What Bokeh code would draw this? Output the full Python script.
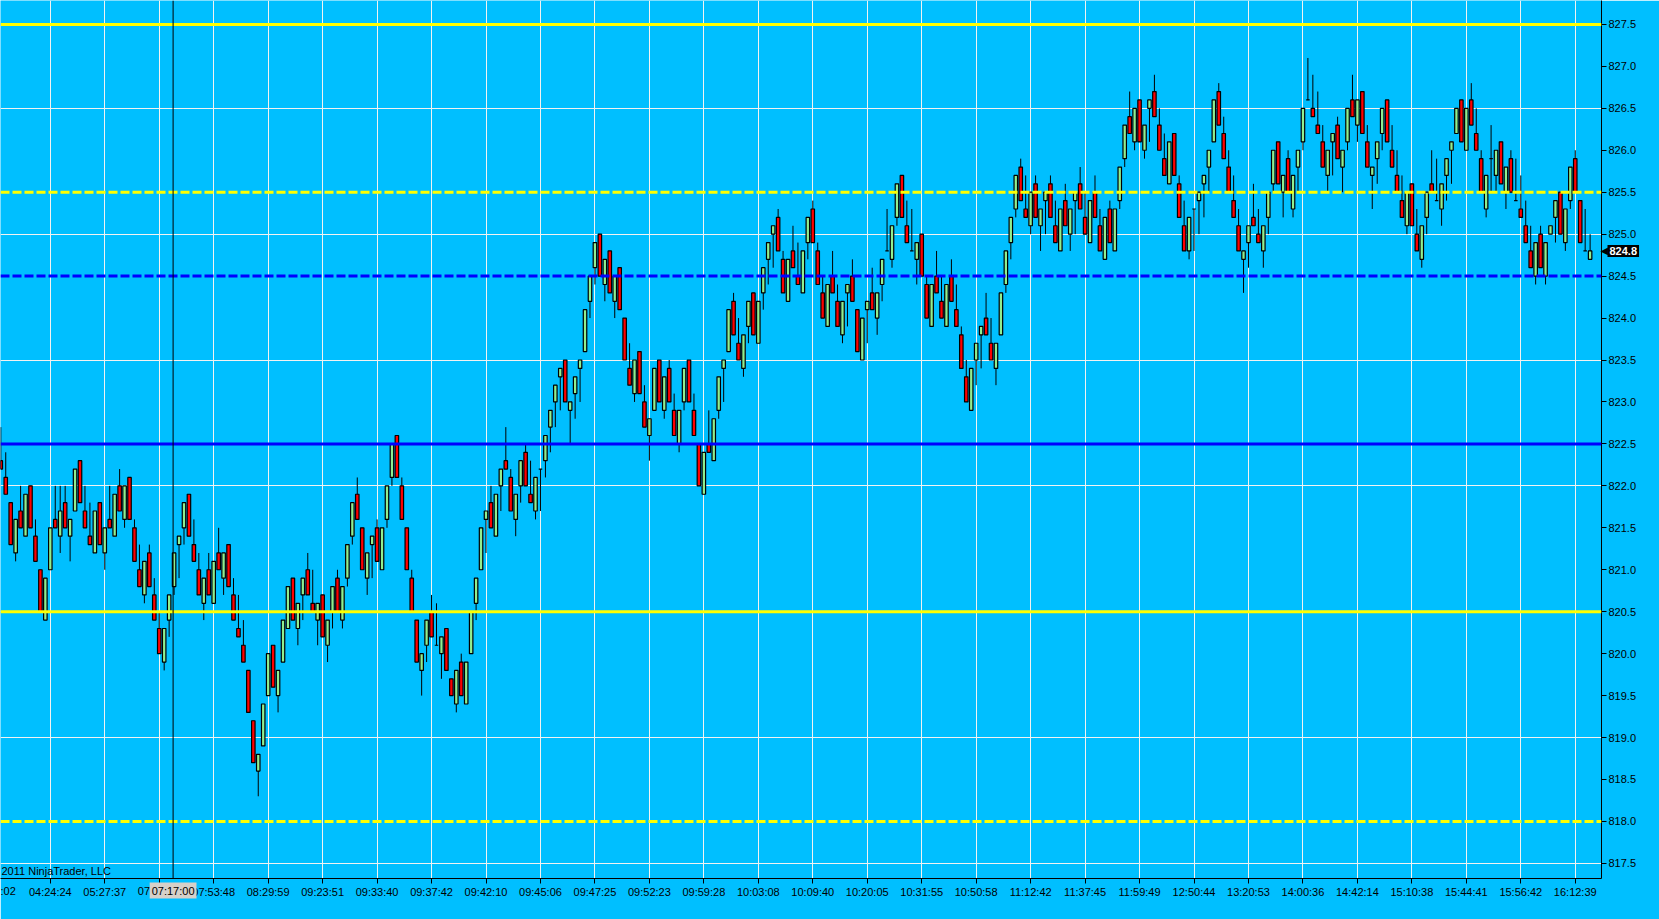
import numpy as np
from bokeh.plotting import figure
from bokeh.models import Range1d, FixedTicker, Span, Label, ColumnDataSource, NumeralTickFormatter
from bokeh.embed import file_html
from bokeh.resources import INLINE

# ---------------- data ----------------
opens = [
    822.3, 822.1, 821.8, 821.2, 821.7, 821.4, 822.0, 821.4, 821.0, 820.4,
    821.0, 821.6, 821.4, 821.8, 821.4, 821.7, 822.3, 821.7, 821.4, 821.2,
    821.8, 821.2, 821.6, 821.4, 822.0, 821.6, 822.1, 821.5, 821.0, 820.7,
    821.2, 820.7, 820.3, 819.9, 820.4, 820.8, 821.3, 821.5, 821.9, 821.3,
    821.0, 820.6, 821.0, 820.6, 821.2, 820.9, 821.3, 820.7, 820.3, 820.1,
    819.8, 819.2, 818.6, 818.9, 819.5, 820.1,
    819.5, 819.9, 820.3, 820.9, 820.3, 820.7, 821.0, 820.6, 820.4, 820.7,
    820.1, 820.5, 820.9, 820.4, 820.9, 821.4, 821.9, 821.5, 820.9, 821.3,
    821.5, 821.0, 821.6, 822.1, 822.6, 822.0, 821.5, 820.9, 820.4, 819.8,
    820.1, 820.5, 820.1, 820.0, 820.3, 819.7, 819.4, 819.9, 819.4, 820.0,
    820.6, 821.0, 821.6, 821.8, 821.4, 822.0, 822.3, 822.1, 821.6, 822.0,
    822.4, 821.9, 821.7, 822.2, 822.3, 822.7,
    823.0, 823.3, 823.5, 822.9, 823.1, 823.4, 823.6, 824.2, 824.6, 825.0,
    824.4, 824.8, 824.2, 824.6, 824.0, 823.4, 823.1, 823.6, 823.0, 822.6,
    822.9, 823.5, 822.9, 823.4, 822.9, 822.5, 823.0, 823.5, 822.9, 822.5,
    821.9, 822.5, 822.3, 822.9, 823.4, 823.6, 824.2, 823.7, 823.4, 823.9,
    824.3, 823.7, 824.3, 824.7, 825.0, 825.2, 824.7, 824.2, 824.8, 824.5,
    824.3, 824.9, 825.3, 824.8, 824.3, 823.9,
    824.5, 824.2, 823.8, 824.3, 824.5, 824.1, 823.5, 824.1, 824.3, 824.0,
    824.4, 824.8, 824.7, 825.2, 825.7, 825.1, 824.8, 824.7, 825.0, 824.4,
    823.9, 824.5, 824.2, 823.9, 824.5, 824.1, 823.8, 823.3, 822.9, 823.5,
    823.8, 824.0, 823.7, 823.4, 823.8, 824.4, 824.9, 825.3, 825.8, 825.3,
    825.1, 825.6, 825.1, 825.4, 825.6, 825.1, 824.8, 825.4, 825.0, 825.4,
    825.6, 825.2, 824.9, 825.5, 825.1, 824.7,
    825.3, 824.8, 825.4, 825.9, 826.4, 826.1, 826.6, 826.0, 826.5, 826.7,
    826.3, 825.9, 825.6, 826.2, 825.6, 825.1, 824.8, 825.3, 825.4, 825.6,
    825.8, 826.1, 826.7, 826.2, 825.8, 825.4, 825.1, 824.7, 824.9, 825.2,
    825.0, 824.8, 825.2, 825.6, 826.1, 825.5, 825.9, 825.3, 825.8, 826.1,
    826.6, 826.5, 826.3, 826.1, 825.7, 826.1, 826.3, 825.8, 826.1, 826.6,
    826.3, 826.7, 826.1, 825.7, 825.9, 826.2,
    826.6, 826.0, 825.7, 825.4, 825.1, 825.6, 825.0, 824.7, 825.2, 825.6,
    825.4, 825.3, 825.7, 826.0, 826.2, 826.6, 826.0, 826.6, 826.2, 825.9,
    825.3, 825.9, 825.7, 826.1, 825.5, 825.9, 825.4, 825.3, 825.1, 824.8,
    824.5, 825.0, 824.5, 825.0, 825.2, 825.5, 824.9, 825.4, 825.9, 825.4,
    824.8, 824.7,
]
highs = [
    822.7, 822.4, 821.8, 821.6, 822.0, 821.9, 822.0, 821.6, 821.0, 820.9,
    821.5, 822.0, 822.0, 822.0, 821.6, 822.2, 822.3, 822.0, 821.8, 821.7,
    821.8, 821.5, 822.0, 821.9, 822.2, 822.0, 822.1, 821.6, 821.3, 821.1,
    821.3, 820.9, 820.5, 820.3, 820.7, 821.2, 821.4, 821.8, 821.9, 821.6,
    821.2, 820.9, 821.2, 821.1, 821.5, 821.2, 821.3, 820.9, 820.7, 820.4,
    819.8, 819.2, 818.8, 819.4, 820.0, 820.1,
    819.8, 820.4, 820.8, 820.9, 820.6, 820.9, 821.2, 821.0, 820.6, 820.7,
    820.4, 820.8, 821.0, 820.8, 821.3, 821.8, 822.1, 821.5, 821.2, 821.4,
    821.6, 821.5, 822.0, 822.5, 822.6, 822.1, 821.5, 821.0, 820.4, 820.0,
    820.4, 820.7, 820.6, 820.2, 820.3, 819.7, 819.8, 820.0, 819.9, 820.5,
    820.9, 821.5, 821.7, 822.0, 821.9, 822.2, 822.7, 822.2, 821.9, 822.3,
    822.5, 822.3, 822.1, 822.2, 822.6, 822.9,
    823.2, 823.4, 823.5, 823.0, 823.3, 823.5, 824.1, 824.5, 824.9, 825.0,
    824.7, 824.8, 824.5, 824.6, 824.0, 823.7, 823.5, 823.6, 823.2, 822.8,
    823.4, 823.5, 823.3, 823.5, 823.1, 822.9, 823.4, 823.5, 823.1, 822.5,
    822.4, 822.9, 822.8, 823.3, 823.5, 824.1, 824.3, 824.0, 823.8, 824.2,
    824.3, 824.2, 824.6, 824.9, 825.1, 825.3, 824.8, 824.7, 825.1, 824.9,
    824.8, 825.2, 825.4, 824.9, 824.5, 824.4,
    824.8, 824.4, 824.2, 824.4, 824.7, 824.1, 824.0, 824.2, 824.6, 824.3,
    824.7, 825.3, 825.1, 825.6, 825.7, 825.4, 825.3, 824.9, 825.0, 824.5,
    824.4, 824.8, 824.5, 824.4, 824.7, 824.4, 823.9, 823.5, 823.4, 823.7,
    823.9, 824.3, 824.0, 823.7, 824.3, 824.8, 825.2, 825.7, 825.9, 825.7,
    825.5, 825.7, 825.3, 825.5, 825.7, 825.4, 825.3, 825.6, 825.3, 825.5,
    825.8, 825.5, 825.4, 825.7, 825.3, 825.2,
    825.4, 825.3, 825.8, 826.3, 826.7, 826.5, 826.6, 826.3, 826.6, 826.9,
    826.5, 826.2, 826.1, 826.2, 825.7, 825.4, 825.2, 825.3, 825.5, 825.7,
    826.0, 826.6, 826.8, 826.4, 826.0, 825.7, 825.3, 824.8, 825.1, 825.6,
    825.3, 825.1, 825.5, 826.0, 826.1, 825.7, 826.0, 825.7, 826.0, 826.5,
    827.1, 826.9, 826.7, 826.3, 826.0, 826.2, 826.4, 826.0, 826.5, 826.9,
    826.6, 826.7, 826.3, 825.8, 826.1, 826.5,
    826.6, 826.3, 826.0, 825.7, 825.5, 825.6, 825.3, 825.1, 825.5, 826.0,
    825.9, 825.6, 825.9, 826.1, 826.5, 826.6, 826.5, 826.8, 826.5, 826.0,
    825.7, 826.3, 826.0, 826.1, 825.8, 826.0, 825.9, 825.7, 825.4, 825.1,
    824.9, 825.1, 824.9, 825.1, 825.4, 825.5, 825.3, 825.8, 826.0, 825.4,
    825.3, 825.0,
]
lows = [
    822.2, 821.9, 821.3, 821.1, 821.5, 821.4, 821.5, 821.1, 820.5, 820.4,
    821.0, 821.5, 821.2, 821.5, 821.1, 821.7, 821.8, 821.5, 821.3, 821.2,
    821.3, 821.0, 821.5, 821.4, 821.7, 821.5, 821.6, 821.1, 820.8, 820.6,
    820.8, 820.4, 820.0, 819.8, 820.2, 820.7, 820.9, 821.3, 821.4, 821.1,
    820.7, 820.4, 820.7, 820.6, 821.0, 820.7, 820.8, 820.4, 820.2, 819.9,
    819.3, 818.7, 818.3, 818.9, 819.5, 819.6,
    819.3, 819.9, 820.3, 820.4, 820.1, 820.4, 820.7, 820.5, 820.1, 820.2,
    819.9, 820.3, 820.5, 820.3, 820.8, 821.3, 821.6, 821.0, 820.7, 820.9,
    821.1, 821.0, 821.5, 822.0, 822.1, 821.6, 821.0, 820.5, 819.9, 819.5,
    819.9, 820.2, 820.1, 819.7, 819.8, 819.5, 819.3, 819.5, 819.4, 820.0,
    820.4, 821.0, 821.2, 821.5, 821.4, 821.7, 822.2, 821.7, 821.4, 821.8,
    822.0, 821.8, 821.6, 821.7, 822.1, 822.4,
    822.7, 822.9, 823.0, 822.5, 822.8, 823.0, 823.6, 824.0, 824.4, 824.5,
    824.2, 824.3, 824.0, 824.1, 823.5, 823.2, 823.0, 823.1, 822.7, 822.3,
    822.9, 823.0, 822.8, 823.0, 822.6, 822.4, 822.9, 823.0, 822.6, 822.0,
    821.9, 822.4, 822.3, 822.8, 823.0, 823.6, 823.8, 823.5, 823.3, 823.7,
    823.8, 823.7, 824.1, 824.4, 824.6, 824.8, 824.3, 824.2, 824.6, 824.4,
    824.3, 824.7, 824.9, 824.4, 824.0, 823.9,
    824.3, 823.9, 823.7, 823.9, 824.2, 823.6, 823.5, 823.7, 824.1, 823.8,
    824.2, 824.8, 824.6, 825.1, 825.2, 824.9, 824.8, 824.4, 824.5, 824.0,
    823.9, 824.3, 824.0, 823.9, 824.2, 823.9, 823.4, 823.0, 822.9, 823.2,
    823.4, 823.8, 823.5, 823.2, 823.8, 824.3, 824.7, 825.2, 825.4, 825.2,
    825.0, 825.2, 824.8, 825.0, 825.2, 824.9, 824.8, 825.1, 824.8, 825.0,
    825.3, 825.0, 824.9, 825.2, 824.8, 824.7,
    824.9, 824.8, 825.3, 825.8, 826.2, 826.0, 826.1, 825.9, 826.1, 826.4,
    826.0, 825.7, 825.6, 825.7, 825.2, 824.8, 824.7, 824.8, 825.0, 825.2,
    825.5, 826.1, 826.3, 825.9, 825.5, 825.2, 824.8, 824.3, 824.6, 825.1,
    824.9, 824.6, 825.0, 825.5, 825.6, 825.2, 825.5, 825.2, 825.5, 826.0,
    826.6, 826.4, 826.2, 825.8, 825.5, 825.7, 825.9, 825.5, 826.0, 826.4,
    826.1, 826.2, 825.8, 825.3, 825.6, 826.0,
    826.1, 825.8, 825.5, 825.2, 825.0, 825.1, 824.8, 824.6, 825.0, 825.5,
    825.4, 825.1, 825.4, 825.6, 826.2, 826.1, 826.0, 826.3, 826.0, 825.5,
    825.2, 825.5, 825.5, 825.6, 825.3, 825.5, 825.4, 825.2, 824.9, 824.6,
    824.4, 824.6, 824.4, 825.0, 824.9, 825.0, 824.8, 825.3, 825.5, 824.9,
    824.8, 824.7,
]
closes = [
    822.2, 821.9, 821.3, 821.6, 821.5, 821.9, 821.5, 821.1, 820.5, 820.9,
    821.5, 821.5, 821.7, 821.5, 821.6, 822.2, 821.8, 821.5, 821.3, 821.7,
    821.3, 821.5, 821.5, 821.9, 821.7, 822.0, 821.6, 821.1, 820.8, 821.1,
    820.8, 820.4, 820.0, 820.3, 820.7, 821.2, 821.4, 821.8, 821.4, 821.1,
    820.7, 820.9, 820.7, 821.1, 821.0, 821.2, 820.8, 820.4, 820.2, 819.9,
    819.3, 818.7, 818.8, 819.4, 820.0, 819.6,
    819.8, 820.4, 820.8, 820.4, 820.6, 820.9, 820.7, 820.5, 820.6, 820.2,
    820.4, 820.8, 820.5, 820.8, 821.3, 821.8, 821.6, 821.0, 821.2, 821.4,
    821.1, 821.5, 822.0, 822.5, 822.1, 821.6, 821.0, 820.5, 819.9, 820.0,
    820.4, 820.2, 820.1, 820.2, 819.8, 819.5, 819.8, 819.5, 819.9, 820.5,
    820.9, 821.5, 821.7, 821.5, 821.9, 822.2, 822.2, 821.7, 821.9, 822.3,
    822.0, 821.8, 822.1, 822.2, 822.6, 822.9,
    823.2, 823.4, 823.0, 823.0, 823.3, 823.5, 824.1, 824.5, 824.9, 824.5,
    824.7, 824.3, 824.5, 824.1, 823.5, 823.2, 823.5, 823.1, 822.7, 822.8,
    823.4, 823.0, 823.3, 823.0, 822.6, 822.9, 823.4, 823.0, 822.6, 822.0,
    822.4, 822.4, 822.8, 823.3, 823.5, 824.1, 823.8, 823.5, 823.8, 824.2,
    823.8, 824.2, 824.6, 824.9, 825.1, 824.8, 824.3, 824.7, 824.6, 824.4,
    824.8, 825.2, 824.9, 824.4, 824.0, 824.4,
    824.3, 823.9, 824.2, 824.4, 824.2, 823.6, 824.0, 824.2, 824.1, 824.3,
    824.7, 824.8, 825.1, 825.6, 825.2, 824.9, 824.8, 824.9, 824.5, 824.0,
    824.4, 824.3, 824.0, 824.4, 824.2, 823.9, 823.4, 823.0, 823.4, 823.7,
    823.9, 823.8, 823.5, 823.7, 824.3, 824.8, 825.2, 825.7, 825.4, 825.2,
    825.5, 825.2, 825.3, 825.5, 825.2, 824.9, 825.3, 825.1, 825.3, 825.5,
    825.3, 825.0, 825.4, 825.2, 824.8, 825.2,
    824.9, 825.3, 825.8, 826.3, 826.2, 826.5, 826.1, 826.3, 826.6, 826.4,
    826.0, 825.7, 826.1, 825.7, 825.2, 824.8, 825.2, 825.3, 825.5, 825.7,
    826.0, 826.6, 826.3, 825.9, 825.5, 825.2, 824.8, 824.8, 825.1, 825.1,
    824.9, 825.1, 825.5, 826.0, 825.6, 825.7, 825.5, 825.7, 826.0, 826.5,
    826.6, 826.4, 826.2, 825.8, 826.0, 826.2, 825.9, 826.0, 826.5, 826.4,
    826.6, 826.2, 825.8, 825.8, 826.1, 826.5,
    826.1, 825.8, 825.5, 825.2, 825.5, 825.1, 824.8, 825.1, 825.5, 825.5,
    825.4, 825.6, 825.9, 826.1, 826.5, 826.1, 826.5, 826.3, 826.0, 825.5,
    825.7, 825.9, 826.0, 825.6, 825.8, 825.5, 825.4, 825.2, 824.9, 824.6,
    824.9, 824.6, 824.9, 825.1, 825.4, 825.0, 825.3, 825.8, 825.5, 824.9,
    824.8, 824.8,
]

tick_bars = [10, 21, 32, 43, 54, 65, 76, 87, 98, 109, 120, 131, 142, 153, 164,
             175, 186, 197, 208, 219, 230, 241, 252, 263, 274, 285, 296, 307, 318]
tick_labels = ["04:24:24", "05:27:37", "", "07:53:48", "08:29:59", "09:23:51",
               "09:33:40", "09:37:42", "09:42:10", "09:45:06", "09:47:25", "09:52:23",
               "09:59:28", "10:03:08", "10:09:40", "10:20:05", "10:31:55", "10:50:58",
               "11:12:42", "11:37:45", "11:59:49", "12:50:44", "13:20:53", "14:00:36",
               "14:42:14", "15:10:38", "15:44:41", "15:56:42", "16:12:39"]
price_ticks = [817.5, 818.0, 818.5, 819.0, 819.5, 820.0, 820.5, 821.0, 821.5, 822.0,
               822.5, 823.0, 823.5, 824.0, 824.5, 825.0, 825.5, 826.0, 826.5, 827.0, 827.5]
grid_prices = [817.5, 819.0, 820.5, 822.0, 823.5, 825.0, 826.5]
level_prices = [827.5, 825.5, 824.5, 822.5, 820.5, 818.0]
level_colors = ["#FFFF00", "#FFFF00", "#0000FF", "#0000FF", "#FFFF00", "#FFFF00"]
level_dashes = ["solid", "9 3", "9 3", "solid", "solid", "9 3"]
last_price = 824.8
crosshair_bar = 34.8
crosshair_text = "07:17:00"
first_label_tail = ":02"
hidden_label_head = "07"
copyright_text = "2011 NinjaTrader, LLC"

# ---------------- figure ----------------
BG = "#00BFFF"
FONT = "Liberation Sans"
FW, FH = 1601, 878
X0, X1 = -0.06, 323.3
Y0, Y1 = 817.32, 827.785
dx = (X1 - X0) / FW   # data units per px
dy = (Y1 - Y0) / FH

p = figure(frame_width=FW, frame_height=FH,
           x_range=Range1d(X0, X1), y_range=Range1d(Y0, Y1),
           y_axis_location="right", toolbar_location=None, output_backend="svg",
           background_fill_color=BG, border_fill_color=BG,
           min_border_left=0, min_border_top=0, min_border_right=42, min_border_bottom=25)
p.outline_line_color = None

o = np.array(opens); h = np.array(highs); l = np.array(lows); c = np.array(closes)
x = np.arange(len(o))
colors = np.where(c > o, "#90EE90", np.where(c < o, "#FF0000", "#000000"))
src = ColumnDataSource(dict(x=x, top=np.maximum(o, c), bottom=np.minimum(o, c),
                            high=h, low=l, color=colors))

p.segment(x0="x", y0="low", x1="x", y1="high", source=src, line_color="black", line_width=1)
p.vbar(x="x", width=0.7, top="top", bottom="bottom", source=src,
       fill_color="color", line_color="black", line_width=1.2)

for lvl, col, dash in zip(level_prices, level_colors, level_dashes):
    p.add_layout(Span(location=lvl, dimension="width", line_color=col,
                      line_width=3, line_dash=dash))

p.add_layout(Span(location=crosshair_bar, dimension="height", line_color="black", line_width=1))

# axes
p.yaxis.ticker = FixedTicker(ticks=price_ticks)
p.yaxis.formatter = NumeralTickFormatter(format="0.0")
p.xaxis.ticker = FixedTicker(ticks=tick_bars)
p.xaxis.major_label_overrides = {t: s for t, s in zip(tick_bars, tick_labels)}
for ax in (p.xaxis[0], p.yaxis[0]):
    ax.axis_line_color = "black"
    ax.axis_line_width = 1
    ax.major_tick_line_color = "black"
    ax.major_tick_in = 0
    ax.major_tick_out = 5
    ax.minor_tick_line_color = None
    ax.major_label_text_font = FONT
    ax.major_label_text_font_size = "11px"
    ax.major_label_text_color = "#000000"
p.yaxis.major_label_standoff = 2
p.xaxis.major_label_standoff = 2

p.xgrid.ticker = FixedTicker(ticks=tick_bars)
p.ygrid.ticker = FixedTicker(ticks=grid_prices)
for g in (p.xgrid[0], p.ygrid[0]):
    g.grid_line_color = "#F2F2F2"
    g.grid_line_width = 1

# texts that sit in the axis areas: added to the side panels so they are not clipped
lab_y = Y0 - 12 * dy
p.add_layout(Label(x=X0, y=lab_y, text=first_label_tail,
                   text_align="left", text_baseline="middle", text_font=FONT,
                   text_font_size="11px", text_color="black"), "below")
p.add_layout(Label(x=crosshair_bar - 23 * dx, y=lab_y,
                   text=hidden_label_head, text_align="right", text_baseline="middle",
                   text_font=FONT, text_font_size="11px", text_color="black"), "below")
p.add_layout(Label(x=crosshair_bar, y=lab_y, text=crosshair_text,
                   text_align="center", text_baseline="middle", text_font=FONT,
                   text_font_size="11px", text_color="black",
                   background_fill_color="#D6D0C9", padding=2), "below")
p.add_layout(Label(x=X0 + 1 * dx, y=Y0 + 2 * dy, text=copyright_text, text_align="left",
                   text_baseline="bottom", text_font=FONT, text_font_size="11px",
                   text_color="black"))
p.add_layout(Label(x=X1 - 1 * dx, y=last_price, text="\u25C0", text_align="left",
                   text_baseline="middle", text_font="DejaVu Sans", text_font_size="10px",
                   text_color="black"), "right")
p.add_layout(Label(x=X1 + 6 * dx, y=last_price, text=f"{last_price:.1f}",
                   text_align="left", text_baseline="middle", text_font=FONT,
                   text_font_size="11px", text_font_style="bold", text_color="white",
                   background_fill_color="black", padding=2), "right")

html = file_html(p, INLINE, title="NinjaTrader chart")
html = html.replace("<body>", '<body style="background-color:#00BFFF;">', 1)
open("out.html", "w").write(html)
